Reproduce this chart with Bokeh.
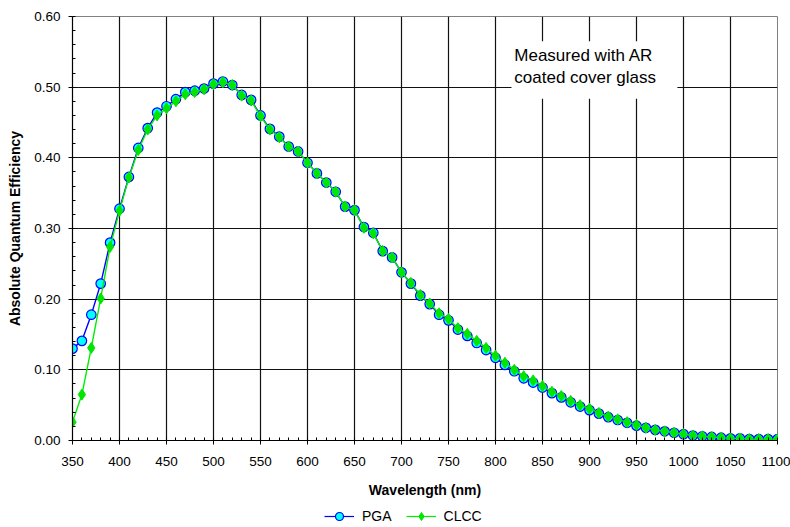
from bokeh.plotting import figure
from bokeh.layouts import column
from bokeh.models import (Legend, LegendItem, BoxAnnotation, Label, SingleIntervalTicker,
                          FixedTicker, NumeralTickFormatter, Range1d)
from bokeh.embed import file_html
from bokeh.resources import INLINE

wavelength = list(range(350, 1101, 10))

pga = [0.130, 0.141, 0.178, 0.222, 0.280, 0.328, 0.373, 0.414, 0.442, 0.464,
       0.473, 0.483, 0.493, 0.495, 0.498, 0.505, 0.508, 0.503, 0.489, 0.482,
       0.460, 0.441, 0.430, 0.416, 0.409, 0.393, 0.378, 0.365, 0.352, 0.331,
       0.326, 0.302, 0.294, 0.268, 0.259, 0.238, 0.222, 0.205, 0.193, 0.178,
       0.170, 0.157, 0.148, 0.138, 0.128, 0.117, 0.107, 0.098, 0.088, 0.082,
       0.075, 0.067, 0.061, 0.054, 0.048, 0.043, 0.038, 0.033, 0.029, 0.025,
       0.021, 0.018, 0.015, 0.013, 0.011, 0.009, 0.007, 0.006, 0.005, 0.004,
       0.003, 0.003, 0.002, 0.002, 0.002, 0.002]

clcc = [0.026, 0.065, 0.131, 0.201, 0.274, 0.325, 0.372, 0.411, 0.440, 0.460,
        0.470, 0.480, 0.490, 0.493, 0.497, 0.504, 0.507, 0.503, 0.488, 0.481,
        0.459, 0.440, 0.429, 0.416, 0.409, 0.393, 0.378, 0.365, 0.352, 0.331,
        0.326, 0.301, 0.293, 0.268, 0.259, 0.238, 0.223, 0.206, 0.194, 0.180,
        0.172, 0.159, 0.151, 0.141, 0.131, 0.120, 0.110, 0.100, 0.091, 0.085,
        0.077, 0.069, 0.063, 0.056, 0.050, 0.045, 0.039, 0.034, 0.030, 0.026,
        0.022, 0.018, 0.015, 0.013, 0.011, 0.009, 0.007, 0.006, 0.005, 0.004,
        0.003, 0.003, 0.002, 0.002, 0.002, 0.002]

y_ticks = [0.0, 0.1, 0.2, 0.3, 0.4, 0.5, 0.6]
series_names = ["PGA", "CLCC"]
note_text = "Measured with AR\ncoated cover glass"
x_title = "Wavelength (nm)"
y_title = "Absolute Quantum Efficiency"

FONT = "Liberation Sans"

p = figure(width=790, height=505, output_backend="svg", toolbar_location=None,
           x_range=Range1d(350, 1100), y_range=Range1d(0, 0.6),
           min_border_left=72, min_border_right=13, min_border_top=16, min_border_bottom=65)
p.background_fill_color = "white"
p.border_fill_color = "white"
p.outline_line_color = "#808080"
p.outline_line_width = 1

y_minor = [round(i * 0.02, 2) for i in range(31)]
y_ticker = FixedTicker(ticks=y_ticks, minor_ticks=y_minor)

# grid
p.xgrid.ticker = SingleIntervalTicker(interval=50)
p.ygrid.ticker = FixedTicker(ticks=y_ticks)
for g in (p.xgrid, p.ygrid):
    g.grid_line_color = "#111111"
    g.grid_line_width = 1.2

# axes
p.xaxis.ticker = SingleIntervalTicker(interval=50, num_minor_ticks=5)
p.yaxis.ticker = y_ticker
p.yaxis.formatter = NumeralTickFormatter(format="0.00")
for ax in (p.xaxis, p.yaxis):
    ax.axis_line_color = "black"
    ax.axis_line_width = 1.2
    ax.major_tick_line_color = "black"
    ax.minor_tick_line_color = "black"
    ax.major_tick_out = 4
    ax.major_tick_in = 0
    ax.minor_tick_out = 0
    ax.minor_tick_in = 3
    ax.major_label_text_font = FONT
    ax.major_label_text_font_size = "13.5px"
    ax.major_label_text_color = "black"
    ax.axis_label_text_font = FONT
    ax.axis_label_text_font_size = "14px"
    ax.axis_label_text_font_style = "bold"
    ax.axis_label_text_color = "black"
p.xaxis.axis_label = x_title
p.yaxis.axis_label = y_title
p.xaxis.major_label_standoff = 12
p.xaxis.axis_label_standoff = 13
p.yaxis.major_label_standoff = 8
p.yaxis.axis_label_standoff = 8

# annotation box
box = BoxAnnotation(left=817, right=993.5, bottom=0.4835, top=0.565,
                    fill_color="white", fill_alpha=1.0, line_color=None)
p.add_layout(box)
note = Label(x=820, y=0.5585, text=note_text, text_font=FONT, text_font_size="17px",
             text_color="black", text_baseline="top", text_align="left",
             text_line_height=1.18)
p.add_layout(note)

# series
PGA_LINE = dict(line_color="#0000FF", line_width=1.4)
PGA_MARK = dict(marker="circle", fill_color="#00FFFF", line_color="#0000FF", line_width=1.2)
CLCC_LINE = dict(line_color="#00EE00", line_width=1.4)
CLCC_MARK = dict(marker="diamond", fill_color="#00E600", line_color="#00E600", line_width=1)

p.line(wavelength, pga, **PGA_LINE)
p.scatter(wavelength, pga, size=9.5, **PGA_MARK)
p.line(wavelength, clcc, **CLCC_LINE)
p.scatter(wavelength, clcc, size=11, **CLCC_MARK)

# legend strip below the chart (its series lie outside its view; only the legend shows)
lg = figure(width=790, height=22, output_backend="svg", toolbar_location=None,
            x_range=Range1d(0, 1), y_range=Range1d(0, 1),
            min_border=0, min_border_left=0, min_border_right=0,
            min_border_top=0, min_border_bottom=0)
lg.axis.visible = False
lg.grid.visible = False
lg.outline_line_color = None
lg.background_fill_color = "white"
lg.border_fill_color = "white"
e1 = lg.line(wavelength, pga, line_color="#0000FF", line_width=1.2)
m1 = lg.scatter(wavelength, pga, size=7.5, **PGA_MARK)
e2 = lg.line(wavelength, clcc, line_color="#00EE00", line_width=1.2)
m2 = lg.scatter(wavelength, clcc, size=8.5, **CLCC_MARK)
legend = Legend(items=[LegendItem(label=series_names[0], renderers=[e1, m1]),
                       LegendItem(label=series_names[1], renderers=[e2, m2])],
                orientation="horizontal", location=(252, 1),
                padding=0, margin=0, spacing=14, glyph_width=30, glyph_height=20,
                label_standoff=8, border_line_color=None, background_fill_alpha=0,
                label_text_font=FONT, label_text_font_size="14px",
                label_text_color="black")
lg.add_layout(legend, "center")

open("out.html", "w").write(file_html(column(p, lg, spacing=0), INLINE))
